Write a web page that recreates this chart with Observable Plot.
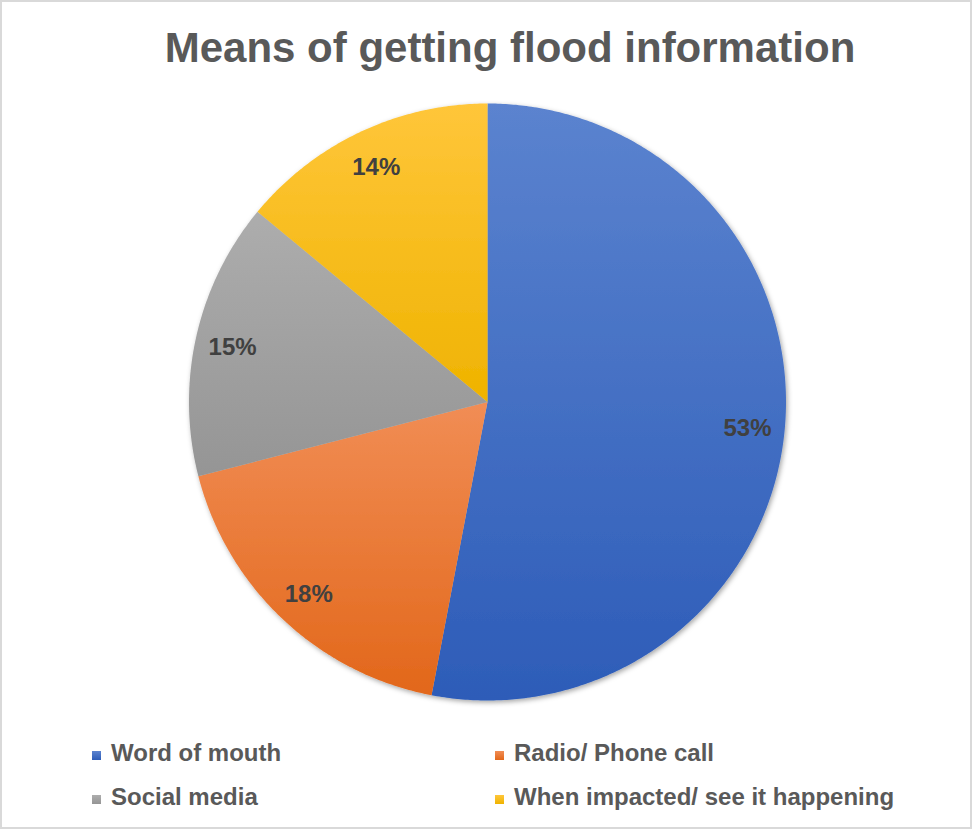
<!DOCTYPE html>
<html>
<head>
<meta charset="utf-8">
<script src="https://cdn.jsdelivr.net/npm/d3@7"></script>
<script src="https://cdn.jsdelivr.net/npm/@observablehq/plot@0.6"></script>
<style>
  html, body { margin: 0; padding: 0; background: #fff; }
  #chart { position: relative; width: 972px; height: 829px; background: #fff;
           box-shadow: inset 0 0 0 2px #d9d9d9; overflow: hidden;
           font-family: "Liberation Sans", Arial, sans-serif; }
  #title { position: absolute; left: 0; width: 1020px; top: 26.5px; text-align: center;
           font-size: 42px; line-height: 42px; font-weight: bold; color: #595959; white-space: nowrap; }
  #plot { position: absolute; left: 0; top: 90px; }
  #legend { position: absolute; left: 92px; top: 740.7px; display: grid;
            grid-template-columns: 403px 403px; grid-auto-rows: 44px; }
  .item { font-size: 24px; line-height: 24px; font-weight: bold; color: #595959; white-space: nowrap; }
  .sw { display: inline-block; width: 9px; height: 9px; margin-right: 10px; position: relative; top: -1px; }
</style>
</head>
<body>
<div id="chart">
  <div id="title">Means of getting flood information</div>
  <div id="plot"></div>
  <div id="legend"></div>
</div>
<script>
// ---- data ----
const categories = ["Word of mouth", "Radio/ Phone call", "Social media", "When impacted/ see it happening"];
const shares = [53, 18, 15, 14];
const labels = ["53%", "18%", "15%", "14%"];
// ---- palette (gradient top / bottom) ----
const topColors = ["#5b83cf", "#f18d55", "#adadad", "#ffc63a"];
const bottomColors = ["#2d5cb8", "#e2671a", "#959595", "#efb300"];

const pie = d3.pie().sort(null).value(d => d)(shares);
const rows = [];
pie.forEach((p, i) => {
  rows.push({cat: categories[i], x: 0, y: 0, fill: `url(#grad${i})`});
  const n = Math.max(4, Math.ceil((p.endAngle - p.startAngle) / (Math.PI / 360)));
  for (let k = 0; k <= n; ++k) {
    const a = p.startAngle + (p.endAngle - p.startAngle) * k / n;
    rows.push({cat: categories[i], x: Math.sin(a), y: Math.cos(a), fill: `url(#grad${i})`});
  }
  rows.push({cat: categories[i], x: 0, y: 0, fill: `url(#grad${i})`});
});
const labelRadius = 0.875;
const labelRows = pie.map((p, i) => {
  const a = (p.startAngle + p.endAngle) / 2;
  return {x: labelRadius * Math.sin(a), y: labelRadius * Math.cos(a), text: labels[i]};
});

const defsMark = () => {
  const ns = "http://www.w3.org/2000/svg";
  const defs = document.createElementNS(ns, "defs");
  categories.forEach((c, i) => {
    const g = document.createElementNS(ns, "linearGradient");
    g.setAttribute("id", `grad${i}`);
    g.setAttribute("x1", "0"); g.setAttribute("y1", "0");
    g.setAttribute("x2", "0"); g.setAttribute("y2", "1");
    [[0, topColors[i]], [1, bottomColors[i]]].forEach(([o, col]) => {
      const s = document.createElementNS(ns, "stop");
      s.setAttribute("offset", o);
      s.setAttribute("stop-color", col);
      g.appendChild(s);
    });
    defs.appendChild(g);
  });
  const f = document.createElementNS(ns, "filter");
  f.setAttribute("id", "pieShadow");
  f.setAttribute("x", "-10%"); f.setAttribute("y", "-10%");
  f.setAttribute("width", "120%"); f.setAttribute("height", "120%");
  const ds = document.createElementNS(ns, "feDropShadow");
  ds.setAttribute("dx", "1.5"); ds.setAttribute("dy", "2");
  ds.setAttribute("stdDeviation", "2.5");
  ds.setAttribute("flood-color", "#000"); ds.setAttribute("flood-opacity", "0.35");
  f.appendChild(ds);
  defs.appendChild(f);
  return defs;
};

const W = 972, H = 630, R = 298.5, cx = 487, cy = 311.5;
const plot = Plot.plot({
  width: W,
  height: H,
  marginLeft: cx - R,
  marginRight: W - cx - R,
  marginTop: cy - R,
  marginBottom: H - cy - R,
  x: {domain: [-1, 1], axis: null},
  y: {domain: [-1, 1], axis: null},
  color: {type: "identity"},
  style: {fontFamily: "Liberation Sans, Arial, sans-serif", background: "transparent", overflow: "visible"},
  marks: [
    defsMark,
    Plot.line(rows, {x: "x", y: "y", z: "cat", fill: "fill", stroke: "none", curve: "linear"}),
    Plot.text(labelRows, {x: "x", y: "y", text: "text", dy: 2, fontSize: 24, fontWeight: "bold", fill: "#404040"})
  ]
});
const lineG = plot.querySelector('g[aria-label="line"]');
if (lineG) lineG.setAttribute("filter", "url(#pieShadow)");
document.getElementById("plot").appendChild(plot);

const legend = document.getElementById("legend");
categories.forEach((c, i) => {
  const it = document.createElement("div");
  it.className = "item";
  const sw = document.createElement("span");
  sw.className = "sw";
  sw.style.background = `linear-gradient(${topColors[i]}, ${bottomColors[i]})`;
  it.appendChild(sw);
  it.appendChild(document.createTextNode(c));
  legend.appendChild(it);
});
</script>
</body>
</html>
